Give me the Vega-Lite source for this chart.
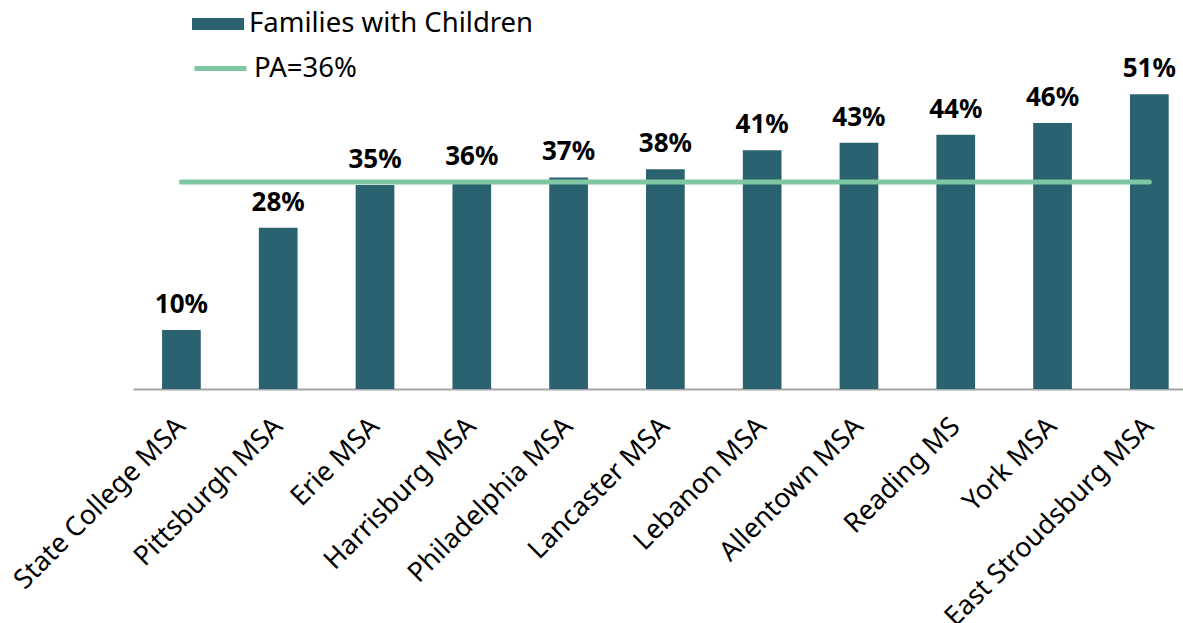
{
  "$schema": "https://vega.github.io/schema/vega-lite/v6.json",
  "autosize": "none",
  "width": 1050,
  "height": 389,
  "padding": {"left": 133, "top": 0, "right": 0, "bottom": 234},
  "background": "white",
  "config": {
    "view": {"stroke": null},
    "font": "Noto Sans",
    "legend": {"padding": 0}
  },
  "data": {
    "values": [
      {"region": "State College MSA", "value": 0.102, "pa": 0.358, "series": "Families with Children", "pa_label": "PA=36%"},
      {"region": "Pittsburgh MSA", "value": 0.279, "pa": 0.358, "series": "Families with Children", "pa_label": "PA=36%"},
      {"region": "Erie MSA", "value": 0.353, "pa": 0.358, "series": "Families with Children", "pa_label": "PA=36%"},
      {"region": "Harrisburg MSA", "value": 0.358, "pa": 0.358, "series": "Families with Children", "pa_label": "PA=36%"},
      {"region": "Philadelphia MSA", "value": 0.366, "pa": 0.358, "series": "Families with Children", "pa_label": "PA=36%"},
      {"region": "Lancaster MSA", "value": 0.380, "pa": 0.358, "series": "Families with Children", "pa_label": "PA=36%"},
      {"region": "Lebanon MSA", "value": 0.413, "pa": 0.358, "series": "Families with Children", "pa_label": "PA=36%"},
      {"region": "Allentown MSA", "value": 0.426, "pa": 0.358, "series": "Families with Children", "pa_label": "PA=36%"},
      {"region": "Reading MS", "value": 0.440, "pa": 0.358, "series": "Families with Children", "pa_label": "PA=36%"},
      {"region": "York MSA", "value": 0.460, "pa": 0.358, "series": "Families with Children", "pa_label": "PA=36%"},
      {"region": "East Stroudsburg MSA", "value": 0.510, "pa": 0.358, "series": "Families with Children", "pa_label": "PA=36%"}
    ]
  },
  "encoding": {
    "x": {
      "field": "region",
      "type": "nominal",
      "sort": null,
      "scale": {"paddingInner": 0.6, "paddingOuter": 0.224, "align": 0.67},
      "axis": {
        "title": null,
        "ticks": false,
        "domainColor": "#a6a6a6",
        "domainWidth": 2,
        "labelAngle": -45,
        "labelAlign": "right",
        "labelBaseline": "middle",
        "labelFontSize": 27,
        "labelColor": "#000000",
        "labelPadding": 33,
        "labelLimit": 0,
        "labelFont": "Noto Sans"
      }
    }
  },
  "layer": [
    {
      "mark": {"type": "bar", "color": "#2b6270"},
      "encoding": {
        "y": {"field": "value", "type": "quantitative", "scale": {"domain": [0, 0.673], "nice": false}, "axis": null},
        "fill": {
          "field": "series",
          "type": "nominal",
          "scale": {"range": ["#2b6270"]},
          "legend": {
            "title": null,
            "orient": "none",
            "legendX": 59,
            "legendY": -2,
            "symbolType": "M-1,-0.23H1V0.23H-1Z",
            "symbolSize": 2704,
            "symbolStrokeWidth": 0,
            "symbolOpacity": 1,
            "labelFontSize": 27.5,
            "labelColor": "#000000",
            "labelFont": "Noto Sans",
            "labelLimit": 0,
            "labelOffset": 5
          }
        }
      }
    },
    {
      "mark": {"type": "text", "dy": -17, "baseline": "alphabetic", "fontSize": 26, "fontWeight": "bold", "color": "#000000", "font": "Noto Sans"},
      "encoding": {
        "y": {"field": "value", "type": "quantitative"},
        "text": {"field": "value", "type": "quantitative", "format": ".0%"}
      }
    },
    {
      "mark": {"type": "line", "strokeWidth": 5, "strokeCap": "round"},
      "encoding": {
        "y": {"field": "pa", "type": "quantitative"},
        "stroke": {
          "field": "pa_label",
          "type": "nominal",
          "scale": {"range": ["#7fc6a2"]},
          "legend": {
            "title": null,
            "orient": "none",
            "legendX": 59,
            "legendY": 40,
            "symbolType": "stroke",
            "symbolSize": 2704,
            "symbolStrokeWidth": 5,
            "labelFontSize": 27.5,
            "labelColor": "#000000",
            "labelFont": "Noto Sans",
            "labelLimit": 0,
            "labelOffset": 5
          }
        }
      }
    }
  ]
}
